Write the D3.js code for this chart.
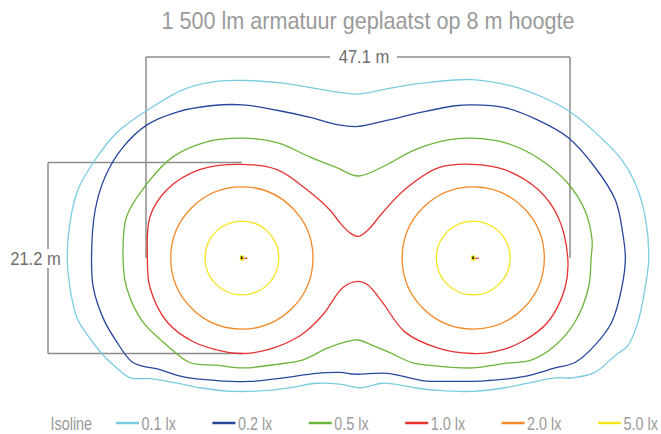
<!DOCTYPE html>
<html>
<head>
<meta charset="utf-8">
<script src="https://cdn.jsdelivr.net/npm/d3@7"></script>
<style>
    body { margin: 0; background: #fff; }
    svg { display: block; font-family: "Liberation Sans", Arial, sans-serif; }
</style>
</head>
<body>
<div id="isoChart"></div>
<script>
// isolines, in metres, origin halfway between the two luminaires
var levels = ["0.1 lx", "0.2 lx", "0.5 lx", "1.0 lx", "2.0 lx", "5.0 lx"];
var levelColors = ["#7acde0", "#28479c", "#6db43a", "#e83232", "#f28a2a", "#f5e51c"];

var iso01 = [[-32.3, 0], [-32.0, 3.9], [-31.1, 7.6], [-29.4, 10.6], [-26.8, 13.9], [-23.4, 16.4], [-19.4, 18.7],
    [-15.7, 19.6], [-12.3, 19.7], [-8.3, 19.4], [-4.6, 18.8], [0, 18.2], [3.3, 18.8], [7.1, 19.4], [12.7, 19.8],
    [17.4, 19.0], [20.4, 17.9], [23.3, 16.4], [26.3, 14.0], [29.3, 10.9], [30.8, 8.3], [31.9, 4.6], [32.3, 0],
    [31.9, -3.3], [31.1, -7.1], [30.0, -9.7], [28.6, -10.8], [26.3, -12.7], [23.8, -13.3], [21.9, -13.3],
    [18.9, -13.9], [16.3, -14.4], [12.7, -14.8], [8.9, -14.7], [6.3, -14.4], [4.1, -14.0], [2.7, -13.9],
    [0.2, -14.4], [-2.0, -14.0], [-4.6, -13.9], [-7.6, -14.4], [-10.1, -14.7], [-13.9, -14.8], [-17.6, -14.4],
    [-20.1, -13.9], [-23.1, -13.4], [-25.3, -13.3], [-26.8, -12.2], [-28.3, -10.8], [-29.8, -8.9],
    [-31.2, -6.7], [-32.0, -3.3]];

var iso02 = [[-29.6, 0], [-29.2, 5.3], [-28.1, 9.0], [-26.1, 12.3], [-23.4, 14.8], [-20.1, 16.2], [-16.4, 16.9],
    [-12.8, 17.0], [-9.0, 16.4], [-5.3, 15.6], [-2.3, 14.8], [0, 14.6], [3.3, 15.3], [7.1, 16.2], [10.8, 16.9],
    [12.7, 17.0], [16.3, 16.7], [20.0, 15.3], [23.3, 13.4], [26.3, 10.1], [28.6, 6.4], [29.4, 2.8], [29.7, 0],
    [29.3, -3.3], [28.2, -7.1], [26.3, -9.7], [24.1, -11.6], [21.9, -12.2], [18.2, -13.2], [14.4, -13.6],
    [10.8, -13.7], [7.1, -13.6], [3.3, -12.8], [-0.3, -12.9], [-2.0, -12.7], [-4.6, -12.8], [-8.3, -13.3],
    [-12.0, -13.7], [-15.7, -13.6], [-19.4, -13.2], [-22.0, -12.4], [-25.0, -11.6], [-26.8, -9.3],
    [-28.3, -6.7], [-29.4, -3.3]];

var iso05 = [[-26.1, 0], [-25.7, 4.6], [-23.4, 8.3], [-20.6, 11.2], [-16.8, 12.9], [-12.8, 13.3], [-9.0, 12.8],
    [-5.3, 11.2], [-2.3, 10.0], [0, 9.1], [2.7, 10.1], [6.3, 12.0], [10.0, 13.1], [12.7, 13.3], [16.3, 12.8],
    [20.0, 11.1], [23.3, 8.3], [25.2, 5.3], [26.0, 2.0], [25.9, 0], [25.6, -3.3], [24.1, -7.1], [21.9, -9.7],
    [19.3, -11.3], [16.3, -11.7], [12.7, -12.2], [8.9, -12.0], [6.0, -11.6], [3.3, -10.4], [1.6, -9.7],
    [0, -9.1], [-0.9, -9.2], [-3.4, -10.0], [-6.1, -11.3], [-9.0, -11.8], [-12.8, -12.2], [-15.7, -11.9],
    [-18.7, -11.6], [-21.2, -9.7], [-23.9, -7.1], [-25.7, -3.3]];

var iso10 = [[-23.4, 0], [-23.1, 4.6], [-21.2, 7.6], [-17.6, 9.8], [-13.1, 10.4], [-9.0, 9.8], [-5.7, 7.6],
    [-3.1, 5.3], [-2.0, 3.9], [-0.9, 2.8], [0, 2.4], [1.1, 3.1], [2.7, 5.0], [5.2, 7.6], [8.9, 10.0],
    [12.7, 10.4], [16.3, 9.8], [20.0, 7.6], [22.2, 4.6], [23.3, 0], [23.0, -3.3], [21.1, -7.1], [18.2, -9.3],
    [15.2, -10.4], [12.7, -10.6], [8.9, -10.0], [5.2, -8.2], [2.7, -4.9], [1.1, -3.0], [0, -2.6],
    [-1.7, -3.3], [-3.9, -6.3], [-6.4, -8.6], [-10.1, -10.2], [-13.1, -10.6], [-15.7, -10.2], [-18.3, -9.3],
    [-21.2, -7.1], [-23.1, -3.3]];

// 2.0 lx and 5.0 lx are round around each luminaire (radius in m)
var ringLevels = [4, 5];
var ringRadius = [7.9, 4.1];

var lumX = [-12.9, 12.8];
var lumY = [0, 0];

var dimWidth = 47.1;
var dimHeight = 21.2;

// narrow text: the original uses a condensed face
function narrowText(parent, tx, ty, sx, size, color, anchor, str) {
    var g = parent.append("g")
        .attr("transform", "translate(" + tx + "," + ty + ") scale(" + sx + ",1)");
    return g.append("text")
        .attr("text-anchor", anchor)
        .attr("font-size", size)
        .attr("fill", color)
        .text(str);
}

function isoChart() {
    var width = 661,
        height = 434;

    var x = d3.scaleLinear()
        .domain([-dimWidth / 2, dimWidth / 2])
        .range([146, 570]);

    var y = d3.scaleLinear()
        .domain([dimHeight / 2, -dimHeight / 2])
        .range([162.5, 353.5]);

    var svg = d3.select("#isoChart")
        .append("svg")
        .attr("width", width)
        .attr("height", height);

    narrowText(svg, 368, 29, 0.9, 24, "#9a9a9a", "middle", "1 500 lm armatuur geplaatst op 8 m hoogte");

    // dimension lines
    var dim = svg.append("g")
        .attr("stroke", "#8c8c8c")
        .attr("stroke-width", 1.5)
        .attr("fill", "none");

    var topY = 57,
        leftX = 48;

    dim.append("line")
        .attr("x1", x(-dimWidth / 2)).attr("x2", x(dimWidth / 2))
        .attr("y1", topY).attr("y2", topY);
    dim.selectAll("line.tickV")
        .data([-dimWidth / 2, dimWidth / 2])
        .enter()
        .append("line")
        .attr("class", "tickV")
        .attr("x1", function(d) { return x(d); })
        .attr("x2", function(d) { return x(d); })
        .attr("y1", topY)
        .attr("y2", y(0));

    dim.append("line")
        .attr("x1", leftX).attr("x2", leftX)
        .attr("y1", y(dimHeight / 2)).attr("y2", y(-dimHeight / 2));
    dim.selectAll("line.tickH")
        .data([dimHeight / 2, -dimHeight / 2])
        .enter()
        .append("line")
        .attr("class", "tickH")
        .attr("x1", leftX)
        .attr("x2", x(lumX[0]))
        .attr("y1", function(d) { return y(d); })
        .attr("y2", function(d) { return y(d); });

    svg.append("rect")
        .attr("x", 330).attr("y", topY - 6)
        .attr("width", 67).attr("height", 12)
        .attr("fill", "#fff");
    narrowText(svg, 364, topY + 6, 0.92, 18, "#6e6e6e", "middle", dimWidth + " m");

    svg.append("rect")
        .attr("x", 40).attr("y", y(0) - 9)
        .attr("width", 16).attr("height", 19)
        .attr("fill", "#fff");
    narrowText(svg, 35.5, y(0) + 7, 0.92, 18, "#6e6e6e", "middle", dimHeight + " m");

    // isolines
    var line = d3.line()
        .x(function(d) { return x(d[0]); })
        .y(function(d) { return y(d[1]); })
        .curve(d3.curveCatmullRomClosed.alpha(0.5));

    var plot = svg.append("g")
        .attr("fill", "none")
        .attr("stroke-width", 1.3);

    plot.selectAll("path.iso")
        .data([iso01, iso02, iso05, iso10])
        .enter()
        .append("path")
        .attr("class", "iso")
        .attr("d", line)
        .attr("stroke", function(d, i) { return levelColors[i]; });

    ringLevels.forEach(function(lv, j) {
        plot.selectAll("ellipse.ring" + lv)
            .data(lumX)
            .enter()
            .append("ellipse")
            .attr("class", "ring" + lv)
            .attr("cx", function(d) { return x(d); })
            .attr("cy", function(d, i) { return y(lumY[i]); })
            .attr("rx", x(ringRadius[j]) - x(0))
            .attr("ry", y(0) - y(ringRadius[j]))
            .attr("stroke", levelColors[lv]);
    });

    // luminaire markers
    var lum = svg.selectAll("g.lum")
        .data(lumX)
        .enter()
        .append("g")
        .attr("class", "lum")
        .attr("transform", function(d, i) { return "translate(" + x(d) + "," + y(lumY[i]) + ")"; });
    lum.append("line")
        .attr("x1", 1).attr("x2", 5.5)
        .attr("y1", 0.3).attr("y2", 0.3)
        .attr("stroke", "#e8323c")
        .attr("stroke-width", 1.2);
    lum.append("rect")
        .attr("x", -2).attr("y", -2.5)
        .attr("width", 4).attr("height", 5)
        .attr("fill", "#f2e000");
    lum.append("rect")
        .attr("x", -1).attr("y", -1.5)
        .attr("width", 1.6).attr("height", 2.6)
        .attr("fill", "#111");

    // legend
    var legend = svg.append("g")
        .attr("transform", "translate(0,423)");
    narrowText(legend, 50.5, 6.5, 0.8, 18, "#9a9a9a", "start", "Isoline");

    var item = legend.selectAll("g.item")
        .data(levels)
        .enter()
        .append("g")
        .attr("class", "item")
        .attr("transform", function(d, i) { return "translate(" + (116 + i * 96.4) + ",0)"; });
    item.append("line")
        .attr("x1", 0).attr("x2", 23)
        .attr("y1", 0).attr("y2", 0)
        .attr("stroke", function(d, i) { return levelColors[i]; })
        .attr("stroke-width", 2.5);
    item.each(function(d) {
        narrowText(d3.select(this), 25.5, 6.5, 0.8, 18, "#9a9a9a", "start", d);
    });
}

isoChart();
</script>
</body>
</html>
